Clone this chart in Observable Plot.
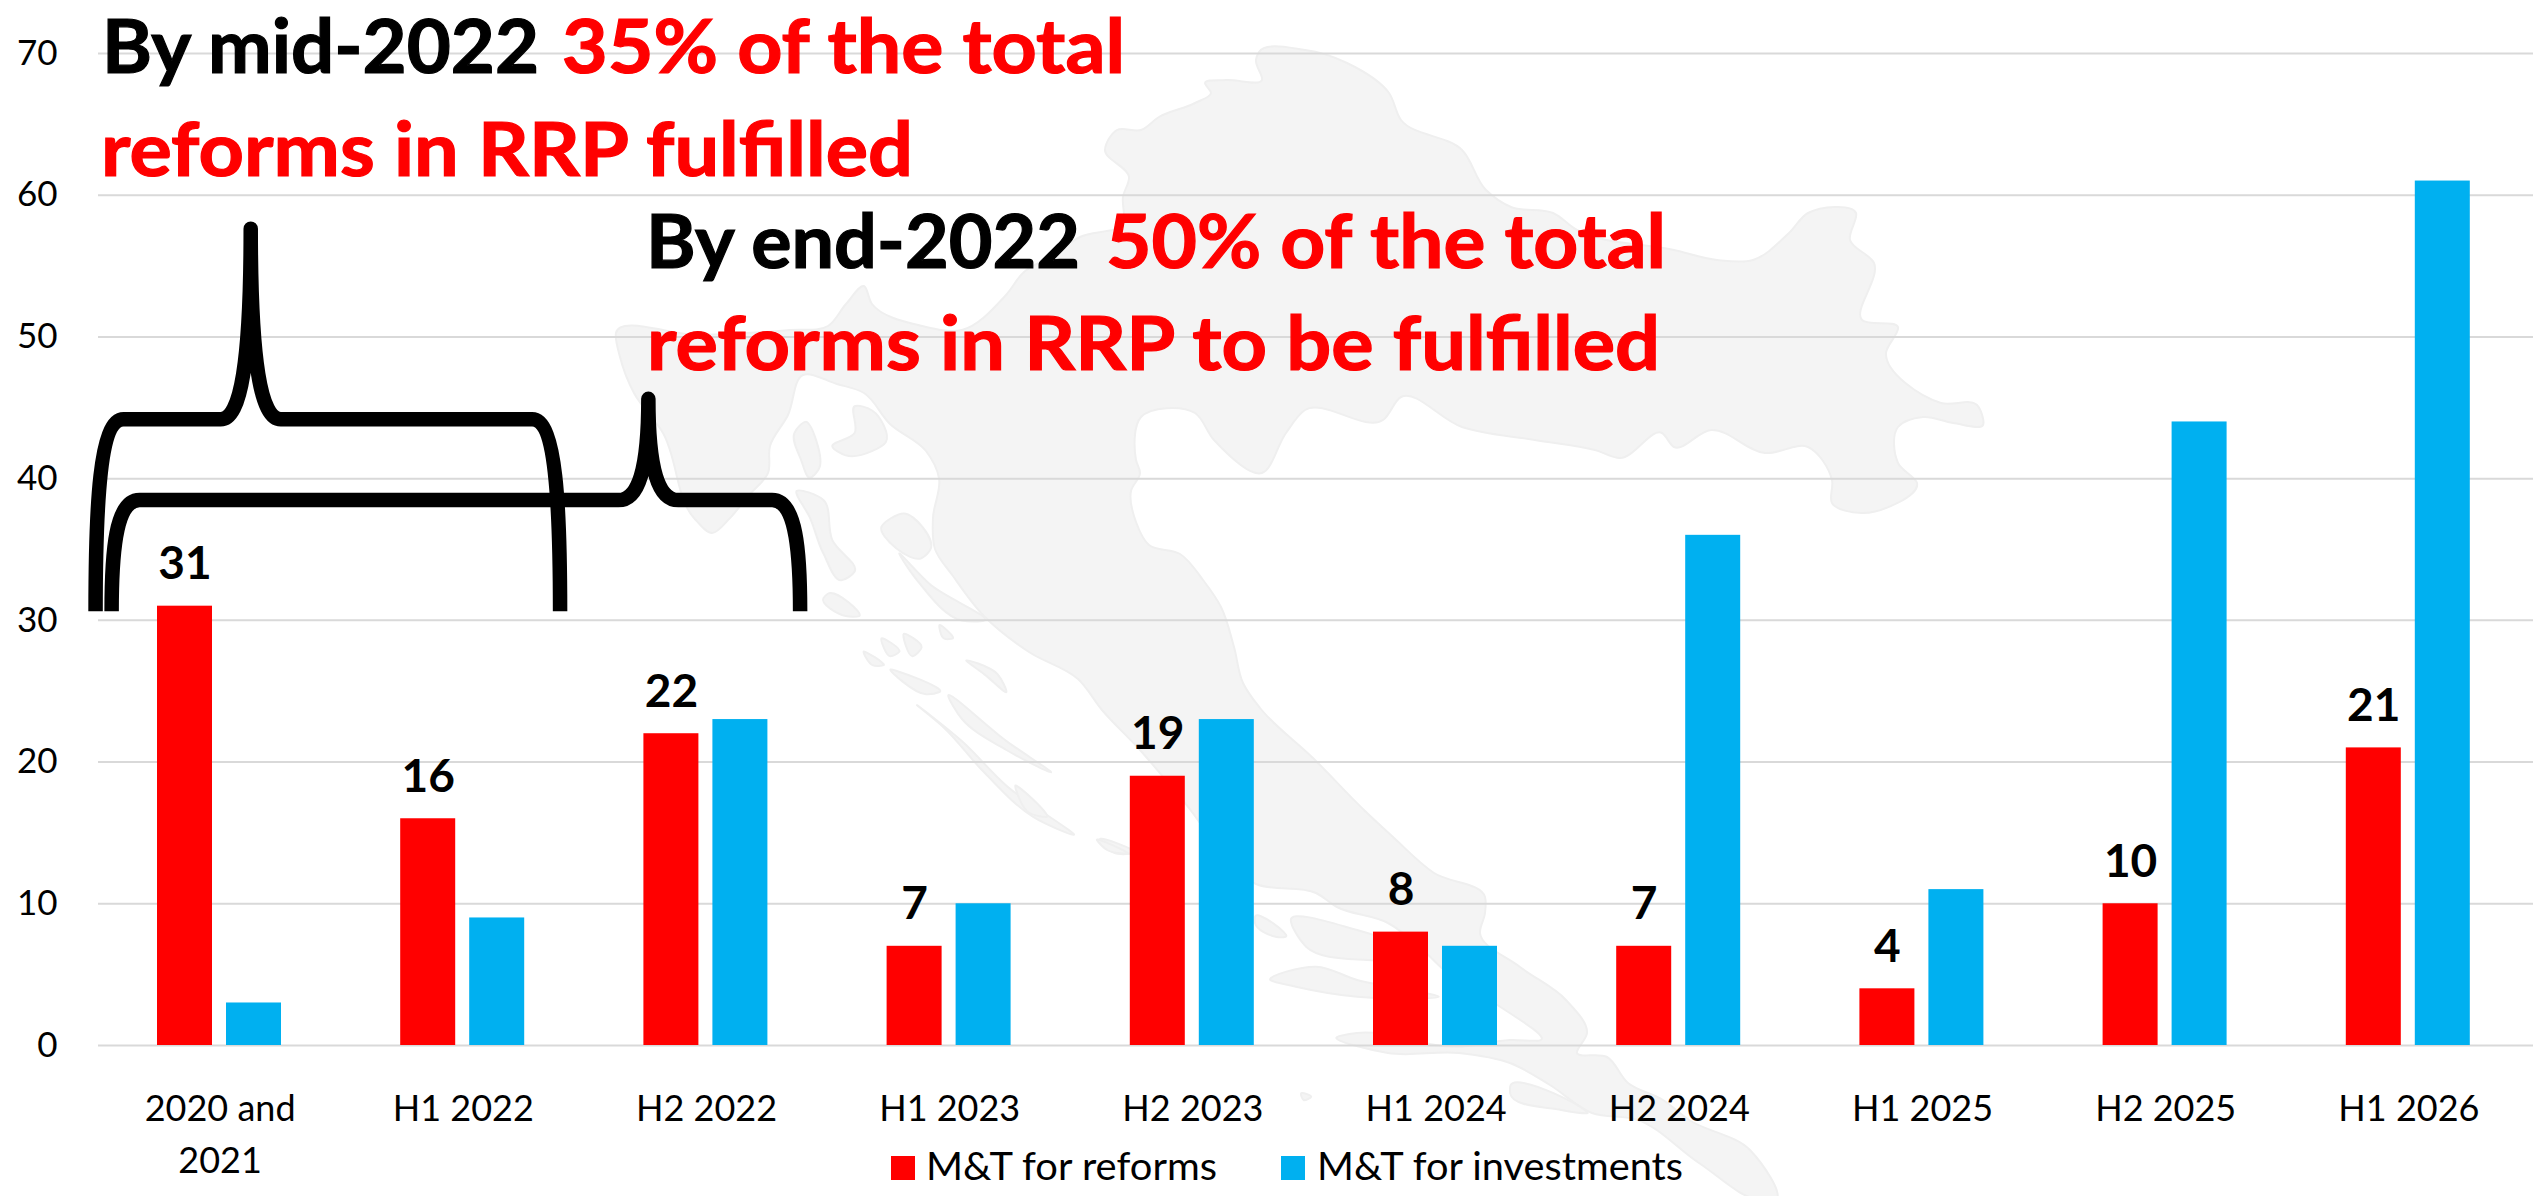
<!DOCTYPE html>
<html>
<head>
<meta charset="utf-8">
<style>
html,body{margin:0;padding:0;background:#fff;overflow:hidden}
svg{display:block}
</style>
<script src="https://cdn.jsdelivr.net/npm/d3@7"></script>
<script src="https://cdn.jsdelivr.net/npm/@observablehq/plot@0.6"></script>
</head>
<body>
<div id="chart"></div>
<script>
const categories = ["2020 and\n2021","H1 2022","H2 2022","H1 2023","H2 2023","H1 2024","H2 2024","H1 2025","H2 2025","H1 2026"];
const reforms = [31,16,22,7,19,8,7,4,10,21];
const investments = [3,9,23,10,23,7,36,11,44,61];
const yTicks = [0,10,20,30,40,50,60,70];
const seriesNames = ["M&T for reforms","M&T for investments"];
const seriesColors = ["#FF0000","#00B0F0"];

// Annotation braces: x in category steps from the first band's left edge, y in axis units
const braces = [
  {left:-0.01, right:1.9, peak:0.628, level:44.15, top:57.6, bottom:30.6},
  {left:0.056, right:2.887, peak:2.263, level:38.45, top:45.6, bottom:30.6}
];

// Callouts and legend labels: fragment, colour, left, right, baseline, size, weight, outline
const callouts = [
  ["By mid-2022","#000",102,539,73,74,700,1.2],
  ["35% of the total","#FF0000",562,1125,73,74,700,1.2],
  ["reforms in RRP fulfilled","#FF0000",101,913,176,74,700,1.2],
  ["By end-2022","#000",646,1080,268,74,700,1.2],
  ["50% of the total","#FF0000",1106,1666,268,74,700,1.2],
  ["reforms in RRP to be fulfilled","#FF0000",647,1660,370,74,700,1.2],
  [seriesNames[0],"#000",926,1217,1180,38,400,0],
  [seriesNames[1],"#000",1317,1683,1180,38,400,0]
];
const legendSwatches = [[891,seriesColors[0]],[1281,seriesColors[1]]];

// Background map of Croatia, traced outline (decorative)
const mainland = [[616,333],[700,335],[790,330],[828,326],[846,304],[864,286],[872,304],[922,326],[962,330],[1006,295],[1024,272],[1050,257],[1080,237],[1123,223],[1123,197],[1129,177],[1105,150],[1117,130],[1141,130],[1159,117],[1195,103],[1211,93],[1205,83],[1226,80],[1262,80],[1256,60],[1259,52],[1305,50],[1347,63],[1389,93],[1401,120],[1462,150],[1486,190],[1511,207],[1553,213],[1577,230],[1674,250],[1717,260],[1753,260],[1789,233],[1808,213],[1856,213],[1850,240],[1874,263],[1862,320],[1898,327],[1886,353],[1941,403],[1977,405],[1983,425],[1953,423],[1923,417],[1898,427],[1898,463],[1917,483],[1862,513],[1832,503],[1832,480],[1808,447],[1765,453],[1711,430],[1674,447],[1662,433],[1620,458],[1595,450],[1535,440],[1462,427],[1401,397],[1383,420],[1305,410],[1286,433],[1262,473],[1214,440],[1195,413],[1141,417],[1136,460],[1140,473],[1131,491],[1136,522],[1149,545],[1180,554],[1203,580],[1221,607],[1234,647],[1243,683],[1260,708],[1314,759],[1364,810],[1393,837],[1434,873],[1485,897],[1485,913],[1480,933],[1520,967],[1566,1000],[1587,1033],[1577,1053],[1607,1057],[1628,1083],[1663,1100],[1689,1120],[1750,1150],[1775,1200],[1760,1200],[1699,1163],[1638,1120],[1592,1113],[1550,1085],[1510,1063],[1459,1053],[1388,1053],[1337,1037],[1357,1033],[1459,1047],[1510,1040],[1541,1040],[1490,1000],[1444,970],[1423,950],[1388,923],[1337,907],[1316,893],[1256,884],[1185,803],[1140,750],[1102,710],[1078,679],[1029,652],[984,616],[953,576],[935,549],[933,518],[939,478],[926,451],[890,424],[864,393],[837,384],[803,375],[788,415],[770,446],[768,473],[748,496],[730,518],[712,533],[694,518],[663,433],[634,393],[620,357]];
const z4 = p => p.map(([x,y]) => [560+x/2.24, 250+y/2.24]);
const z6 = p => p.map(([x,y]) => [1000+x/1.96, 800+y/3]);
const islands = [
  ...[
    [[610,440],[660,410],[660,350],[700,360],[730,430],[700,450],[640,460]],
    [[525,410],[550,385],[575,430],[580,490],[560,510],[540,470]],
    [[530,540],[590,560],[610,650],[660,720],[630,740],[590,680],[560,600]],
    [[720,620],[770,590],[830,670],[810,690]],
    [[760,680],[830,750],[950,830],[900,830],[800,740]],
    [[600,770],[670,820],[640,820],[590,780]],
    [[800,1020],[900,1100],[1000,1200],[1150,1310],[1060,1270],[950,1170],[860,1070]],
    [[720,870],[760,900],[740,910]],[[770,860],[810,890],[790,910]],
    [[680,900],[725,930],[700,930]],[[740,940],[850,990],[820,995]],
    [[870,1000],[1000,1100],[1100,1170],[1000,1120],[900,1050]],
    [[910,920],[980,950],[1000,990],[950,950]],
    [[1020,1200],[1090,1270],[1050,1260]],
    [[1210,1320],[1290,1350],[1240,1350]],
    [[850,840],[880,870],[860,870]]
  ].map(z4),
  ...[
    [[570,360],[700,390],[830,470],[720,480],[600,440]],
    [[530,540],[620,500],[700,540],[860,590],[700,590],[580,560]],
    [[500,350],[560,410],[540,410],[500,370]],
    [[1000,860],[1150,940],[1100,930],[1000,880]],
    [[190,120],[250,160],[210,150]],
    [[590,880],[610,890],[595,900]]
  ].map(z6)
];

const reformRows = categories.map((category,i)=>({category,value:reforms[i]}));
const investmentRows = categories.map((category,i)=>({category,value:investments[i]}));

const width = 2534, height = 1196;
const marginLeft = 98, marginRight = 1, marginTop = 53, marginBottom = 151;
const bandRight = 2530;
const step = (bandRight-marginLeft)/categories.length;
const NS = "http://www.w3.org/2000/svg";

function mapMark(){
  const g = document.createElementNS(NS,"g");
  const closed = d3.line().curve(d3.curveCatmullRomClosed.alpha(0.9));
  for(const poly of [mainland,...islands]){
    const p = document.createElementNS(NS,"path");
    p.setAttribute("d",closed(poly));
    p.setAttribute("fill","#F4F4F4");
    p.setAttribute("stroke","#EFEFEF");
    p.setAttribute("stroke-width","2");
    p.setAttribute("stroke-linejoin","round");
    g.appendChild(p);
  }
  return g;
}

function braceMark(index,scales){
  const g = document.createElementNS(NS,"g");
  const x0 = scales.x(categories[0]);
  for(const b of braces){
    const L = x0+b.left*step, R = x0+b.right*step, P = x0+b.peak*step;
    const Y = scales.y(b.level), T = scales.y(b.top), B = scales.y(b.bottom);
    const run = 28, w = 30;
    const d = `M${L} ${B}C${L} ${B-(B-Y)*.55} ${L+4} ${Y} ${L+run} ${Y}`
      + `L${P-w} ${Y}C${P-10} ${Y} ${P} ${Y-(Y-T)*.3} ${P} ${T}`
      + `C${P} ${Y-(Y-T)*.3} ${P+10} ${Y} ${P+w} ${Y}`
      + `L${R-run} ${Y}C${R-4} ${Y} ${R} ${B-(B-Y)*.55} ${R} ${B}`;
    const p = document.createElementNS(NS,"path");
    p.setAttribute("d",d);
    p.setAttribute("fill","none");
    p.setAttribute("stroke","#000");
    p.setAttribute("stroke-width","14.5");
    p.setAttribute("stroke-linejoin","round");
    g.appendChild(p);
  }
  return g;
}

function calloutMark(){
  const g = document.createElementNS(NS,"g");
  g.setAttribute("text-anchor","start");
  for(const [text,color,x1,x2,base,size,weight,outline] of callouts){
    const t = document.createElementNS(NS,"text");
    t.textContent = text;
    t.setAttribute("x",x1);
    t.setAttribute("y",base);
    t.setAttribute("fill",color);
    t.setAttribute("font-size",size);
    t.setAttribute("font-weight",weight);
    t.setAttribute("textLength",x2-x1);
    t.setAttribute("lengthAdjust","spacingAndGlyphs");
    if(outline){ t.setAttribute("stroke",color); t.setAttribute("stroke-width",outline); }
    g.appendChild(t);
  }
  for(const [x,color] of legendSwatches){
    const r = document.createElementNS(NS,"rect");
    r.setAttribute("x",x); r.setAttribute("y",1156);
    r.setAttribute("width",24); r.setAttribute("height",24);
    r.setAttribute("fill",color);
    g.appendChild(r);
  }
  return g;
}

const chart = Plot.plot({
  width, height, marginLeft, marginRight, marginTop, marginBottom,
  style:{fontFamily:"Lato, 'Open Sans', sans-serif", background:"transparent", overflow:"visible"},
  x:{type:"band", domain:categories, padding:0, round:false, range:[marginLeft,bandRight], label:null},
  y:{domain:[0,70], label:null},
  marks:[
    mapMark,
    Plot.ruleY(yTicks,{stroke:"#D9D9D9",strokeWidth:2}),
    Plot.barY(reformRows,{x:"category",y:"value",fill:seriesColors[0],insetLeft:59,insetRight:129.2}),
    Plot.barY(investmentRows,{x:"category",y:"value",fill:seriesColors[1],insetLeft:128,insetRight:60.2}),
    Plot.text(reformRows,{x:"category",y:"value",text:d=>String(d.value),dx:-35.1,dy:-27,lineAnchor:"bottom",fontSize:46,fontWeight:700,fill:"#000"}),
    Plot.axisY({ticks:yTicks,tickSize:0,tickPadding:41,fontSize:35,label:null,color:"#000"}),
    Plot.axisX({tickSize:0,tickPadding:39,fontSize:36,lineHeight:1.44,label:null,color:"#000"}),
    braceMark,
    calloutMark
  ]
});
document.getElementById("chart").appendChild(chart);
</script>
</body>
</html>
